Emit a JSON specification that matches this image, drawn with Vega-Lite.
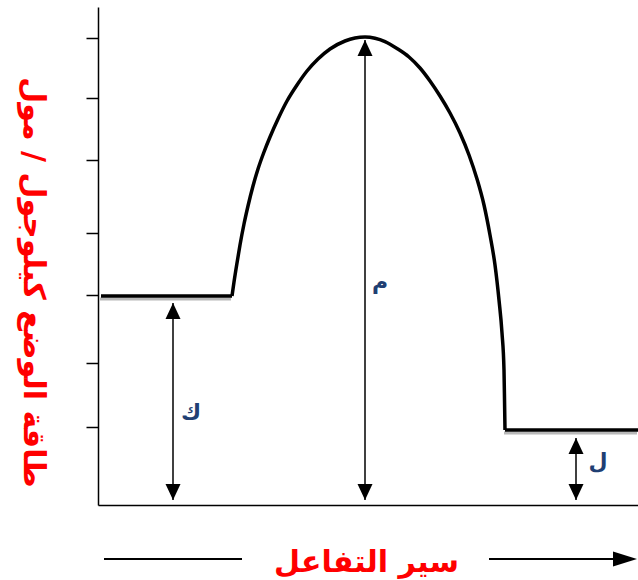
{
  "$schema": "https://vega.github.io/schema/vega-lite/v6.json",
  "width": 540,
  "height": 498,
  "autosize": {"type": "none"},
  "padding": {"left": 98, "top": 7, "right": 0, "bottom": 75},
  "background": "white",
  "config": {"view": {"stroke": null}, "font": "DejaVu Sans"},
  "datasets": {
    "curve": [
      {"p": 134, "e": 209}, {"p": 136, "e": 223}, {"p": 139, "e": 242}, {"p": 142, "e": 260},
      {"p": 146, "e": 281}, {"p": 150, "e": 299}, {"p": 155, "e": 319}, {"p": 160, "e": 336},
      {"p": 166, "e": 353}, {"p": 172, "e": 368}, {"p": 180, "e": 386}, {"p": 189, "e": 404},
      {"p": 199, "e": 420}, {"p": 209, "e": 434}, {"p": 220, "e": 446}, {"p": 232, "e": 456},
      {"p": 247, "e": 464}, {"p": 257, "e": 467}, {"p": 267, "e": 468}, {"p": 277, "e": 466.8},
      {"p": 287, "e": 463.4}, {"p": 299, "e": 456.5}, {"p": 311, "e": 448}, {"p": 322, "e": 437},
      {"p": 332, "e": 424}, {"p": 342, "e": 409}, {"p": 352, "e": 392}, {"p": 362, "e": 372},
      {"p": 371, "e": 350}, {"p": 379, "e": 326}, {"p": 386, "e": 300}, {"p": 392, "e": 270},
      {"p": 397, "e": 240}, {"p": 401, "e": 205}, {"p": 404, "e": 172}, {"p": 406, "e": 135},
      {"p": 406.6, "e": 100}, {"p": 407, "e": 75}
    ],
    "flats": [
      {"seg": "reactants", "p": 3, "e": 209}, {"seg": "reactants", "p": 134, "e": 209},
      {"seg": "products", "p": 407, "e": 75}, {"seg": "products", "p": 540, "e": 75}
    ],
    "arrows": [
      {"p": 75, "e1": 5, "e2": 202},
      {"p": 267, "e1": 5, "e2": 465},
      {"p": 478, "e1": 5, "e2": 67}
    ],
    "guide": [
      {"p1": 6, "p2": 144, "e": -54},
      {"p1": 391, "p2": 528, "e": -54}
    ],
    "guideHead": [{"p": 539, "e": -54}],
    "labels": [
      {"t": "ك", "p": 93, "e": 92},
      {"t": "م", "p": 282, "e": 223},
      {"t": "ل", "p": 500, "e": 43}
    ]
  },
  "layer": [
    {
      "data": {"name": "flats"},
      "mark": {"type": "line", "color": "#b8b8b8", "strokeWidth": 3, "yOffset": 3, "xOffset": -1},
      "encoding": {
        "x": {"field": "p", "type": "quantitative"},
        "y": {"field": "e", "type": "quantitative"},
        "detail": {"field": "seg"}
      }
    },
    {
      "data": {"name": "curve"},
      "mark": {"type": "line", "color": "black", "strokeWidth": 3.5, "interpolate": "monotone"},
      "encoding": {
        "x": {
          "field": "p", "type": "quantitative",
          "scale": {"domain": [0, 540], "nice": false, "zero": false},
          "axis": {
            "orient": "bottom", "domainColor": "black", "domainWidth": 1.5,
            "ticks": false, "labels": false, "grid": false,
            "title": "سير التفاعل", "titleColor": "#ff0000", "titleFontSize": 30,
            "titleFontWeight": "bold", "titleFont": "DejaVu Sans",
            "titleX": 268, "titleY": 66, "titleAlign": "center", "titleBaseline": "alphabetic"
          }
        },
        "y": {
          "field": "e", "type": "quantitative",
          "scale": {"domain": [0, 498], "nice": false, "zero": false},
          "axis": {
            "orient": "left", "domainColor": "black", "domainWidth": 1.5,
            "values": [467, 407, 345, 272, 210, 142, 78],
            "ticks": true, "tickSize": 12, "tickColor": "black", "tickWidth": 1.5,
            "labels": false, "grid": false,
            "title": "طاقة الوضع كيلوجول / مول", "titleColor": "#ff0000", "titleFontSize": 30,
            "titleFontWeight": "bold", "titleFont": "DejaVu Sans", "titleAngle": 90,
            "titleX": -75, "titleY": 275, "titleAlign": "center", "titleBaseline": "alphabetic"
          }
        }
      }
    },
    {
      "data": {"name": "flats"},
      "mark": {"type": "line", "color": "black", "strokeWidth": 3.5},
      "encoding": {
        "x": {"field": "p", "type": "quantitative"},
        "y": {"field": "e", "type": "quantitative"},
        "detail": {"field": "seg"}
      }
    },
    {
      "data": {"name": "arrows"},
      "mark": {"type": "rule", "color": "black", "strokeWidth": 1.5},
      "encoding": {
        "x": {"field": "p", "type": "quantitative"},
        "y": {"field": "e1", "type": "quantitative"},
        "y2": {"field": "e2"}
      }
    },
    {
      "data": {"name": "arrows"},
      "mark": {"type": "point", "filled": true, "color": "black", "opacity": 1, "size": 100,
               "shape": "M0,0L-1.5,3.2L1.5,3.2Z"},
      "encoding": {
        "x": {"field": "p", "type": "quantitative"},
        "y": {"field": "e2", "type": "quantitative"}
      }
    },
    {
      "data": {"name": "arrows"},
      "mark": {"type": "point", "filled": true, "color": "black", "opacity": 1, "size": 100,
               "shape": "M0,0L-1.5,-3.2L1.5,-3.2Z"},
      "encoding": {
        "x": {"field": "p", "type": "quantitative"},
        "y": {"field": "e1", "type": "quantitative"}
      }
    },
    {
      "data": {"name": "guide"},
      "mark": {"type": "rule", "color": "black", "strokeWidth": 2},
      "encoding": {
        "x": {"field": "p1", "type": "quantitative"},
        "x2": {"field": "p2"},
        "y": {"field": "e", "type": "quantitative"}
      }
    },
    {
      "data": {"name": "guideHead"},
      "mark": {"type": "point", "filled": true, "color": "black", "opacity": 1, "size": 100,
               "shape": "M0,0L-4.8,-1.5L-4.8,1.5Z"},
      "encoding": {
        "x": {"field": "p", "type": "quantitative"},
        "y": {"field": "e", "type": "quantitative"}
      }
    },
    {
      "data": {"name": "labels"},
      "mark": {"type": "text", "font": "DejaVu Sans", "fontWeight": "bold", "fontSize": 22,
               "color": "#1f3f73", "align": "center", "baseline": "middle"},
      "encoding": {
        "x": {"field": "p", "type": "quantitative"},
        "y": {"field": "e", "type": "quantitative"},
        "text": {"field": "t"}
      }
    }
  ]
}
